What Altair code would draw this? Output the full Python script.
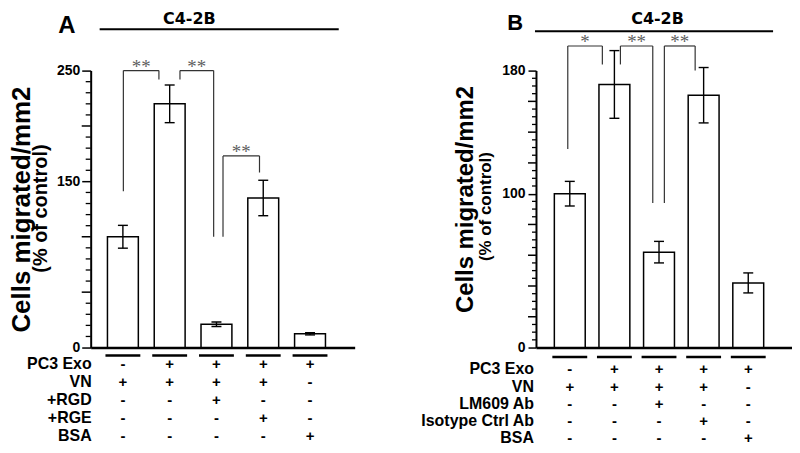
import altair as alt
import pandas as pd

# ---------------- Panel A data ----------------
a_values = [100, 220, 21, 135, 12.4]
a_errors = [10.3, 17, 2, 16, 1]
a_row_names = ["PC3 Exo", "VN", "+RGD", "+RGE", "BSA"]
a_signs = [
    ["-", "+", "+", "+", "+"],
    ["+", "+", "+", "+", "-"],
    ["-", "-", "+", "-", "-"],
    ["-", "-", "-", "+", "-"],
    ["-", "-", "-", "-", "+"],
]
# bracket: x-left, x-right, left-leg bottom, top, right-leg bottom, label
a_brackets = [
    (1.01, 1.77, 141, 250, 242, "**"),
    (2.22, 2.94, 242, 250, 100, "**"),
    (3.14, 3.92, 100, 173, 158, "**"),
]

# ---------------- Panel B data ----------------
b_values = [100, 171, 62, 164, 42]
b_errors = [8, 22, 7, 18, 6.5]
b_row_names = ["PC3 Exo", "VN", "LM609 Ab", "Isotype Ctrl Ab", "BSA"]
b_signs = [
    ["-", "+", "+", "+", "+"],
    ["+", "+", "+", "+", "-"],
    ["-", "-", "+", "-", "-"],
    ["-", "-", "-", "+", "-"],
    ["-", "-", "-", "-", "+"],
]
b_brackets = [
    (0.955, 1.73, 129, 196, 184, "*"),
    (2.135, 2.86, 184, 196, 94, "**"),
    (3.12, 3.81, 94, 196, 180, "**"),
]

cell_title = "C4-2B"
ytitle1 = "Cells migrated/mm2"
ytitle2 = "(% of control)"

H = 278
FONT = "Liberation Sans"


def panel(letter, values, errors, row_names, signs, brackets, x_domain, y_max,
          major, minor, shown, width, p):
    xs = alt.Scale(domain=x_domain, nice=False, zero=False)
    ys = alt.Scale(domain=[0, y_max], nice=False)
    xax = alt.Axis(title=None, labels=False, ticks=False, grid=False,
                   domainWidth=2.5, domainColor="black")
    yax = alt.Axis(
        title=None, values=shown, grid=False, tickSize=p["maj"],
        labelOverlap=False, labelFlush=False,
        labelFont=FONT, labelFontSize=14, labelFontWeight="bold", labelColor="black",
        labelPadding=p["lp"], domainWidth=2, domainColor="black",
        tickColor="black", tickWidth=1.5,
    )
    n = len(values)
    df = pd.DataFrame({
        "i": list(range(1, n + 1)),
        "v": values,
        "lo": [v - e for v, e in zip(values, errors)],
        "hi": [v + e for v, e in zip(values, errors)],
        "z": [0] * n,
        "s": ["\n".join(row[j] for row in signs) for j in range(n)],
    })
    X = alt.X("i:Q", scale=xs, axis=xax)

    bars = alt.Chart(df).mark_bar(size=31, fill="white", stroke="black",
                                  strokeWidth=1.5, orient="vertical").encode(
        x=X, y=alt.Y("v:Q", scale=ys, axis=yax, stack=None))
    err = alt.Chart(df).mark_rule(strokeWidth=1.4, color="black").encode(
        x=X, y=alt.Y("lo:Q", scale=ys, axis=yax), y2="hi:Q")
    cap_hi = alt.Chart(df).mark_tick(orient="horizontal", size=10, thickness=1.4,
                                     color="black", opacity=1).encode(
        x=X, y=alt.Y("hi:Q", scale=ys, axis=yax))
    cap_lo = alt.Chart(df).mark_tick(orient="horizontal", size=10, thickness=1.4,
                                     color="black", opacity=1).encode(
        x=X, y=alt.Y("lo:Q", scale=ys, axis=yax))
    underline = alt.Chart(df).mark_tick(orient="horizontal", size=35, thickness=2.5,
                                        color="black", opacity=1,
                                        yOffset=p["ul"]).encode(
        x=X, y=alt.Y("z:Q", scale=ys, axis=yax))
    sign_text = alt.Chart(df).mark_text(
        lineBreak="\n", lineHeight=p["lh"], font=FONT, fontSize=15, fontWeight="bold",
        dy=p["dy"], baseline="alphabetic", align="center", color="black").encode(
        x=X, y=alt.Y("z:Q", scale=ys, axis=yax), text="s:N")

    # unlabelled ticks of the y axis (major and minor)
    maj_df = pd.DataFrame({"tv": [t for t in range(0, y_max + 1, major) if t not in shown]})
    min_df = pd.DataFrame({"tm": [t for t in range(0, y_max + 1, minor) if t % major]})
    major_ticks = alt.Chart(maj_df).mark_rule(color="black", strokeWidth=1.5).encode(
        x=alt.value(0), x2=alt.value(-p["maj"]),
        y=alt.Y("tv:Q", scale=ys, axis=yax))
    minor_ticks = alt.Chart(min_df).mark_rule(color="black", strokeWidth=1.3).encode(
        x=alt.value(0), x2=alt.value(-p["min"]),
        y=alt.Y("tm:Q", scale=ys, axis=yax))

    rows = pd.DataFrame({"t": ["\n".join(row_names)]})
    row_text = alt.Chart(rows).mark_text(
        lineBreak="\n", lineHeight=p["lh"], font=FONT, fontSize=16, fontWeight="bold",
        dy=p["dy"], baseline="alphabetic", align="right", color="black").encode(
        x=alt.value(p["rx"]), y=alt.value(H), text="t:N")

    seg = []
    for x1, x2, yl, yt, yr, lab in brackets:
        seg.append({"xa": x1, "xb": x1, "ya": yl, "yb": yt})
        seg.append({"xa": x1, "xb": x2, "ya": yt, "yb": yt})
        seg.append({"xa": x2, "xb": x2, "ya": yt, "yb": yr})
    seg = pd.DataFrame(seg)
    br = alt.Chart(seg).mark_rule(color="#333333", strokeWidth=1.2).encode(
        x=alt.X("xa:Q", scale=xs, axis=xax), x2="xb:Q",
        y=alt.Y("ya:Q", scale=ys, axis=yax), y2="yb:Q")
    stars_df = pd.DataFrame({
        "xm": [(b[0] + b[1]) / 2 for b in brackets],
        "yt": [b[3] for b in brackets],
        "lab": [b[5] for b in brackets],
    })
    stars = alt.Chart(stars_df).mark_text(
        font="Liberation Serif", fontSize=19, color="#606060", dy=2,
        baseline="alphabetic", align="center").encode(
        x=alt.X("xm:Q", scale=xs, axis=xax), y=alt.Y("yt:Q", scale=ys, axis=yax),
        text="lab:N")

    t1 = alt.Chart(pd.DataFrame({"t1": [ytitle1]})).mark_text(
        angle=270, font=FONT, fontSize=p["t1s"], fontWeight="bold", baseline="middle",
        align="center", color="black").encode(
        x=alt.value(p["t1x"]), y=alt.value(p["t1y"]), text="t1:N")
    t2 = alt.Chart(pd.DataFrame({"t2": [ytitle2]})).mark_text(
        angle=270, font=FONT, fontSize=p["t2s"], fontWeight="bold", baseline="middle",
        align="center", color="black").encode(
        x=alt.value(p["t2x"]), y=alt.value(p["t2y"]), text="t2:N")
    let = alt.Chart(pd.DataFrame({"lt": [letter]})).mark_text(
        font=FONT, fontSize=p["ls"], fontWeight="bold", baseline="alphabetic",
        align="center", color="black").encode(
        x=alt.value(p["lx"]), y=alt.value(p["ly"]), text="lt:N")
    ct = alt.Chart(pd.DataFrame({"ct": [cell_title]})).mark_text(
        font="DejaVu Sans", fontSize=16, fontWeight="bold", baseline="alphabetic",
        align="center", color="black").encode(
        x=alt.value(p["cx"]), y=alt.value(p["cy"]), text="ct:N")
    cl = alt.Chart(pd.DataFrame({"ct": [cell_title]})).mark_rule(
        color="black", strokeWidth=2).encode(
        x=alt.value(p["lx1"]), x2=alt.value(p["lx2"]), y=alt.value(p["liney"]))

    return alt.layer(bars, err, cap_hi, cap_lo, underline, major_ticks, minor_ticks,
                     br, stars, sign_text, row_text, t1, t2, let, ct, cl).properties(
        width=width, height=H)


pa = dict(maj=9, min=5, lp=2, ul=8, lh=18, dy=22, rx=1,
          t1s=26, t1x=-69, t1y=139.5, t2s=20, t2x=-49.5, t2y=138.5,
          ls=24, lx=-24, ly=-37.5, cx=99, cy=-46.5, lx1=9, lx2=249, liney=-41.5)
pb = dict(maj=8, min=4, lp=3, ul=9.5, lh=17.2, dy=27, rx=-2,
          t1s=24, t1x=-70, t1y=129.5, t2s=17, t2x=-50.5, t2y=136.5,
          ls=22, lx=-21, ly=-40.5, cx=122, cy=-46.5, lx1=-1, lx2=238, liney=-39.5)

chart_a = panel("A", a_values, a_errors, a_row_names, a_signs, a_brackets,
                [0.418, 5.848], 250, 50, 10, [0, 150, 250], 265, pa)
chart_b = panel("B", b_values, b_errors, b_row_names, b_signs, b_brackets,
                [0.354, 5.869], 180, 20, 5, [0, 100, 180], 257, pb)

chart = alt.hconcat(chart_a, chart_b, spacing=182, bounds="flush").properties(
    padding={"left": 0, "top": 2, "right": 0, "bottom": 0}
).configure(font=FONT, background="white").configure_view(stroke=None)

chart.save("out.html", embed_options={"renderer": "svg", "actions": False})
